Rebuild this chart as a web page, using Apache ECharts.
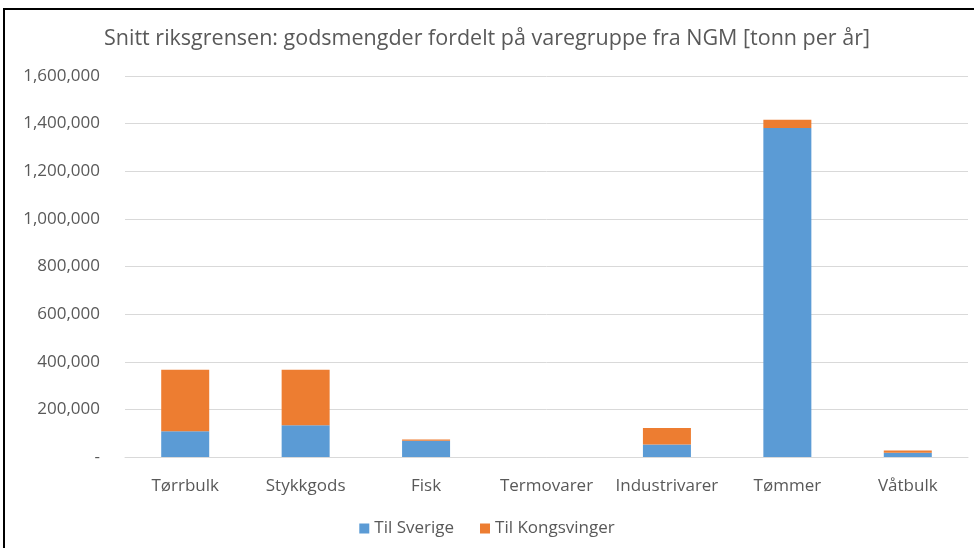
<!DOCTYPE html>
<html>
<head>
<meta charset="utf-8">
<script src="https://cdn.jsdelivr.net/npm/echarts@6/dist/echarts.min.js"></script>
<style>
  html, body { margin: 0; padding: 0; background: #fff; }
  #chart { width: 974px; height: 548px; }
</style>
</head>
<body>
<div id="chart"></div>
<script>
// Goods volumes across the border, per commodity group (tonnes per year)
const categories = ['Tørrbulk', 'Stykkgods', 'Fisk', 'Termovarer', 'Industrivarer', 'Tømmer', 'Våtbulk'];
const tilSverige = [108000, 133000, 68000, 0, 52000, 1382000, 18000];
const tilKongsvinger = [258000, 233000, 5000, 0, 70000, 34000, 9000];
const seriesNames = ['Til Sverige', 'Til Kongsvinger'];
const titleText = 'Snitt riksgrensen: godsmengder fordelt på varegruppe fra NGM [tonn per år]';

const font = '"Open Sans", "Noto Sans", sans-serif';
const textGrey = '#595959';

const chart = echarts.init(document.getElementById('chart'), null, { renderer: 'canvas' });

chart.setOption({
  backgroundColor: '#ffffff',
  animation: false,
  title: {
    text: titleText,
    left: 'center',
    top: 23,
    textStyle: { fontFamily: font, fontSize: 21.5, fontWeight: 'normal', color: textGrey }
  },
  legend: {
    data: seriesNames,
    bottom: 6,
    left: 'center',
    itemWidth: 10,
    itemHeight: 10,
    itemGap: 26,
    icon: 'rect',
    textStyle: { fontFamily: font, fontSize: 17, color: textGrey }
  },
  grid: { left: 125, right: 6, top: 76, bottom: 91, containLabel: false },
  xAxis: {
    type: 'category',
    data: categories,
    axisLine: { lineStyle: { color: '#D9D9D9', width: 1 } },
    axisTick: { show: false },
    axisLabel: {
      fontFamily: font, fontSize: 17, color: textGrey, margin: 21,
      interval: 0, hideOverlap: false
    }
  },
  yAxis: {
    type: 'value',
    min: 0,
    max: 1600000,
    interval: 200000,
    axisLine: { show: false },
    axisTick: { show: false },
    splitLine: { lineStyle: { color: '#D9D9D9', width: 1 } },
    axisLabel: {
      fontFamily: font, fontSize: 17, color: textGrey, margin: 25,
      formatter: v => v === 0 ? '-' : v.toLocaleString('en-US')
    }
  },
  series: [
    {
      name: seriesNames[0],
      type: 'bar',
      stack: 'total',
      data: tilSverige,
      barWidth: 48,
      itemStyle: { color: '#5B9BD5' }
    },
    {
      name: seriesNames[1],
      type: 'bar',
      stack: 'total',
      data: tilKongsvinger,
      barWidth: 48,
      itemStyle: { color: '#ED7D31' }
    }
  ],
  graphic: [
    {
      type: 'rect',
      silent: true,
      shape: { x: 4, y: 9, width: 1000, height: 600 },
      style: { fill: 'none', stroke: '#000000', lineWidth: 2 }
    }
  ]
});
</script>
</body>
</html>
